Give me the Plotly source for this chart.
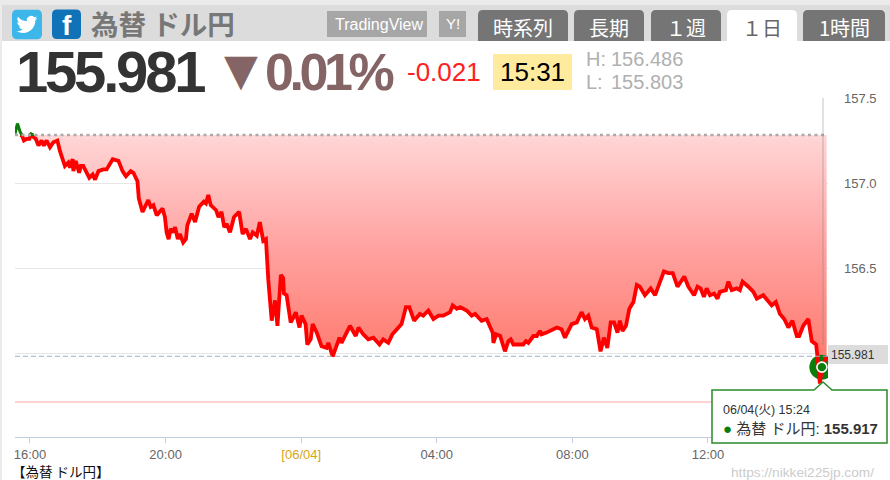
import base64
import plotly.graph_objects as go

# ---- data (hours counted from 00:00 of 06/03; 24 = 06/04 00:00) ----
hours = [15.56,15.63,15.71,15.76,15.82,15.90,15.98,16.03,16.10,16.17,16.25,16.34,16.41,16.49,16.59,16.69,16.81,16.88,17.03,17.13,17.18,17.26,17.28,17.35,17.45,17.50,17.57,17.75,17.85,17.92,18.02,18.16,18.26,18.44,18.61,18.73,18.83,18.97,19.05,19.17,19.21,19.32,19.49,19.56,19.64,19.74,19.91,19.98,20.03,20.09,20.15,20.23,20.28,20.36,20.42,20.52,20.60,20.64,20.77,20.87,20.99,21.13,21.19,21.26,21.33,21.49,21.56,21.65,21.73,21.80,21.90,22.02,22.17,22.27,22.37,22.49,22.57,22.69,22.78,22.88,22.96,23.03,23.13,23.23,23.30,
 23.40,23.47,23.49,23.57,23.69,23.77,23.84,23.95,24.01,24.13,24.18,24.28,24.34,24.46,24.60,24.75,24.80,24.93,25.03,25.13,25.19,25.44,25.61,25.69,25.83,25.98,26.13,26.31,26.42,26.57,26.69,26.96,27.09,27.19,27.33,27.50,27.60,27.75,27.90,28.05,28.19,28.39,28.47,28.59,28.69,28.88,29.03,29.13,29.27,29.32,29.47,29.65,29.67,29.75,29.87,30.01,30.11,30.18,30.26,30.55,30.63,30.70,30.85,30.95,
 31.04,31.09,31.24,31.54,31.68,31.78,31.98,32.13,32.27,32.37,32.47,32.57,32.72,32.83,32.93,33.03,33.13,33.23,33.33,33.40,33.48,33.58,33.68,33.80,33.90,33.99,34.14,34.31,34.44,34.58,34.70,34.83,34.96,35.10,35.30,35.42,35.59,35.69,35.78,35.88,35.96,36.06,36.18,36.28,36.35,36.53,36.60,36.70,36.85,36.94,37.02,37.19,37.34,37.44,37.63,37.88,38.00,38.12,38.25,38.37,38.49,38.62,38.69,38.81,38.96,39.06,39.19,39.24,39.30,39.36,39.50]
prices = [157.29,157.35,157.30,157.28,157.25,157.26,157.26,157.29,157.27,157.26,157.22,157.25,157.22,157.25,157.21,157.24,157.25,157.19,157.10,157.12,157.09,157.14,157.07,157.13,157.06,157.10,157.10,157.03,157.05,157.02,157.07,157.08,157.08,157.14,157.13,157.07,157.04,157.07,157.06,157.01,156.91,156.83,156.90,156.86,156.87,156.81,156.85,156.80,156.71,156.67,156.73,156.71,156.74,156.67,156.70,156.65,156.67,156.75,156.82,156.77,156.86,156.89,156.88,156.93,156.87,156.84,156.80,156.83,156.74,156.76,156.71,156.80,156.83,156.70,156.73,156.67,156.71,156.69,156.77,156.66,156.67,156.43,156.19,156.31,156.16,
 156.46,156.44,156.35,156.34,156.18,156.21,156.24,156.15,156.22,156.17,156.05,156.08,156.17,156.12,156.04,156.03,156.06,155.98,156.04,156.09,156.06,156.16,156.10,156.15,156.11,156.08,156.09,156.05,156.08,156.06,156.11,156.17,156.27,156.27,156.19,156.23,156.22,156.25,156.20,156.22,156.22,156.24,156.28,156.26,156.27,156.25,156.22,156.23,156.20,156.19,156.20,156.12,156.06,156.11,156.10,156.01,156.07,156.08,156.05,156.05,156.07,156.06,156.10,156.10,
 156.13,156.11,156.12,156.15,156.14,156.09,156.17,156.18,156.24,156.20,156.22,156.15,156.14,156.01,156.09,156.03,156.18,156.18,156.12,156.19,156.13,156.16,156.26,156.30,156.40,156.39,156.34,156.38,156.34,156.42,156.48,156.47,156.47,156.39,156.45,156.39,156.34,156.39,156.38,156.33,156.38,156.34,156.35,156.32,156.36,156.37,156.42,156.37,156.38,156.37,156.42,156.39,156.36,156.32,156.34,156.28,156.30,156.23,156.20,156.15,156.19,156.10,156.10,156.16,156.20,156.07,156.05,155.96,155.82,155.917,155.981]
previous_close = 157.282
last_price = 155.981
low_line = 155.712
hover_hour = 39.36
hover_price = 155.917
tick_hours = [16, 20, 24, 28, 32, 36]
tick_labels = ["16:00", "20:00", '<span style="color:#d6a514">[06/04]</span>', "04:00", "08:00", "12:00"]
price_ticks = [157.5, 157.0, 156.5, 156.0]
price_labels = ["157.5", "157.0", "156.5", ""]

# ---- layout geometry ----
PL, PR, PT, PB = 15, 828, 98, 437
def X(p): return (p - PL) / (PR - PL)
def Y(p): return (PB - p) / (PB - PT)
SANS = "Liberation Sans"
CJK = "Noto Sans CJK JP"

shapes, annos = [], []
def rect(x0, y0, x1, y1, fill, layer="below"):
    shapes.append(dict(type="rect", xref="paper", yref="paper", x0=X(x0), x1=X(x1), y0=Y(y0), y1=Y(y1),
                       fillcolor=fill, line_width=0, layer=layer))
def path(points, fill, line=None, width=0, layer="below"):
    shapes.append(dict(type="path", xref="paper", yref="paper", path=points, fillcolor=fill,
                       line=dict(color=line or "rgba(0,0,0,0)", width=width), layer=layer))
def tab(x0, y0, x1, y1, fill, r=5):
    path(f"M{X(x0)},{Y(y1)} L{X(x0)},{Y(y0+r)} Q{X(x0)},{Y(y0)} {X(x0+r)},{Y(y0)} "
         f"L{X(x1-r)},{Y(y0)} Q{X(x1)},{Y(y0)} {X(x1)},{Y(y0+r)} L{X(x1)},{Y(y1)} Z", fill)
def text(x, y, s, size, color, anchor="left", family=SANS, **kw):
    annos.append(dict(xref="paper", yref="paper", x=X(x), y=Y(y), text=s, showarrow=False,
                      xanchor=anchor, yanchor="middle", align=anchor, borderpad=0,
                      font=dict(size=size, color=color, family=family), **kw))

# page frame and header
rect(0, 0, 890, 5, "#ebebeb")
rect(0, 0, 2, 480, "#ebebeb")
rect(2, 5, 890, 41, "#dcdcdc")

# twitter / facebook icons
tw = ('<svg xmlns="http://www.w3.org/2000/svg" viewBox="0 0 30 30"><rect width="30" height="30" rx="5" fill="#3db7ea"/>'
      '<g transform="translate(4.5 4.5) scale(.875)"><path fill="#fff" d="M23.953 4.57a10 10 0 01-2.825.775 4.958 4.958 0 002.163-2.723c-.951.555-2.005.959-3.127 1.184a4.92 4.92 0 00-8.384 4.482C7.69 8.095 4.067 6.13 1.64 3.162a4.822 4.822 0 00-.666 2.475c0 1.71.87 3.213 2.188 4.096a4.904 4.904 0 01-2.228-.616v.06a4.923 4.923 0 003.946 4.827 4.996 4.996 0 01-2.212.085 4.936 4.936 0 004.604 3.417 9.867 9.867 0 01-6.102 2.105c-.39 0-.779-.023-1.17-.067a13.995 13.995 0 007.557 2.209c9.053 0 13.998-7.496 13.998-13.985 0-.21 0-.42-.015-.63A9.935 9.935 0 0024 4.59z"/></g></svg>')
images = [dict(source="data:image/svg+xml;base64," + base64.b64encode(tw.encode()).decode(),
               xref="paper", yref="paper", x=X(12), y=Y(9.5), sizex=X(42) - X(12), sizey=Y(9.5) - Y(39.5),
               xanchor="left", yanchor="top", sizing="stretch", layer="above")]
path(f"M{X(57)},{Y(9.5)} L{X(76)},{Y(9.5)} Q{X(81)},{Y(9.5)} {X(81)},{Y(14.5)} L{X(81)},{Y(34)} Q{X(81)},{Y(39)} {X(76)},{Y(39)} "
     f"L{X(57)},{Y(39)} Q{X(52)},{Y(39)} {X(52)},{Y(34)} L{X(52)},{Y(14.5)} Q{X(52)},{Y(9.5)} {X(57)},{Y(9.5)} Z", "#1073b8")
text(67, 26, "<b>f</b>", 28, "#ffffff", "center")

text(90, 23, "<b>為替 ドル円</b>", 27.5, "#777777", family=CJK)

rect(327, 11, 427, 37, "#a6a6a6")
text(378.5, 24, "TradingView", 16, "#ffffff", "center")
rect(439, 11, 466, 37, "#a6a6a6")
text(452.5, 23, "Y!", 15, "#ffffff", "center")

for x0, x1, label, fill, col in [(478, 568, "時系列", "#757575", "#ffffff"), (574, 644, "長期", "#757575", "#ffffff"),
                                 (651, 721, "１週", "#757575", "#ffffff"), (727, 797, "１日", "#ffffff", "#666666"),
                                 (803, 885, "1時間", "#757575", "#ffffff")]:
    tab(x0, 10, x1, 41, fill)
    text((x0 + x1) / 2, 27, label, 20, col, "center", family=CJK)

# price header
text(15, 71, '<b><span style="letter-spacing:-3.2px">155.981</span></b>', 58, "#333333")
text(223, 70, "▼", 44, "#846464", family="DejaVu Sans")
text(264, 72, '<b><span style="letter-spacing:-4.4px">0.01%</span></b>', 52, "#846464")
text(406, 72, "-0.021", 26, "#ff2020")
rect(493, 54, 572, 90, "#ffeb9e")
text(532.5, 72, "15:31", 26, "#000000", "center")
text(585, 59, "H:", 20, "#b0b0b0")
text(610, 59, "156.486", 20, "#b0b0b0")
text(585, 82, "L:", 20, "#b0b0b0")
text(610, 82, "155.803", 20, "#b0b0b0")

# reference lines (data coordinates)
def hline(value, x0, x1, color, width, dash, layer="above"):
    shapes.append(dict(type="line", xref="paper", yref="y", x0=X(x0), x1=X(x1), y0=value, y1=value,
                       line=dict(color=color, width=width, dash=dash), layer=layer))
hline(low_line, 15, 712, "#ffc4c4", 1.5, "solid")
hline(last_price, 15, 828, "#a0acd0", 1.2, "5px,3px")
hline(previous_close, 15, 826, "#aaaaaa", 2.5, "3px,3.5px")

# right axis rule
shapes.append(dict(type="line", xref="paper", yref="paper", x0=X(823), x1=X(823), y0=Y(98), y1=Y(345),
                   line=dict(color="rgba(120,120,120,0.45)", width=1), layer="above"))

# last price tag
rect(828, 345, 888, 364, "#dcdcdc", layer="above")
text(830, 355, "155.981", 12, "#333333")

# tooltip
path(f"M{X(712)},{Y(390)} L{X(814)},{Y(390)} L{X(823)},{Y(382)} L{X(832)},{Y(390)} L{X(887)},{Y(390)} "
     f"L{X(887)},{Y(443)} L{X(712)},{Y(443)} Z", "#ffffff", "#2a8a2a", 1.5, layer="above")
text(722, 410, "06/04(火) 15:24", 12.5, "#333333", family=f"{SANS}, {CJK}")
text(722, 428, '<span style="color:#0a7d0a">●</span> 為替 ドル円: <b>155.917</b>', 15, "#333333", family=f"{SANS}, {CJK}")

# footer
text(11, 471, "【為替 ドル円】", 13.5, "#111111", family=CJK)
text(875, 472, "https://nikkei225jp.com/", 13.7, "#cccccc", "right")

# ---- series ----
def keep(above):
    out = []
    n = len(prices)
    for i, p in enumerate(prices):
        same = (p >= previous_close) == above
        near = any((prices[j] >= previous_close) == above for j in (i - 1, i + 1) if 0 <= j < n)
        out.append(p if same else (previous_close if near else None))
    return out

fig = go.Figure()
fig.add_trace(go.Scatter(x=hours, y=[previous_close] * len(hours), mode="lines", line=dict(width=0), hoverinfo="skip"))
fig.add_trace(go.Scatter(x=hours, y=[min(p, previous_close) for p in prices], mode="lines", line=dict(width=0),
                         fill="tonexty", hoverinfo="skip",
                         fillgradient=dict(type="vertical", start=155.95, stop=previous_close,
                                           colorscale=[[0, "#ff7a6e"], [0.5, "#ffa2a0"], [1, "#ffd6d6"]])))
fig.add_trace(go.Scatter(x=[hover_hour], y=[hover_price], mode="markers", marker=dict(size=25, color="#0a7d0a"), hoverinfo="skip"))
fig.add_trace(go.Scatter(x=hours, y=keep(False), mode="lines", line=dict(color="#ff0000", width=3.8), connectgaps=False))
fig.add_trace(go.Scatter(x=hours, y=keep(True), mode="lines", line=dict(color="#0a7d0a", width=3), connectgaps=False))
fig.add_trace(go.Scatter(x=[hover_hour], y=[hover_price], mode="markers",
                         marker=dict(size=10, color="#0a7d0a", line=dict(color="#ffffff", width=1.6)), hoverinfo="skip"))

fig.update_layout(
    width=890, height=480, autosize=False, showlegend=False, paper_bgcolor="#ffffff", plot_bgcolor="#ffffff",
    margin=dict(l=PL, r=890 - PR, t=PT, b=480 - PB),
    font=dict(family=SANS, size=12, color="#666666"),
    shapes=shapes, annotations=annos, images=images,
    xaxis=dict(range=[15.558, 39.54], tickmode="array", tickvals=tick_hours, ticktext=tick_labels,
               showgrid=False, zeroline=False, showline=True, linecolor="#c0d0e0", linewidth=1,
               ticks="outside", ticklen=5, tickcolor="#c0d0e0", tickfont=dict(size=13, color="#666666")),
    yaxis=dict(range=[155.506, 157.5], side="right", tickmode="array", tickvals=price_ticks, ticktext=price_labels,
               showgrid=True, gridcolor="#e6e6e6", gridwidth=1, zeroline=False, showline=False, ticks="",
               ticklabelstandoff=15, tickfont=dict(size=13, color="#666666")),
)
fig.write_html("out.html", config=dict(displayModeBar=False), post_script="document.body.style.margin='0';")
